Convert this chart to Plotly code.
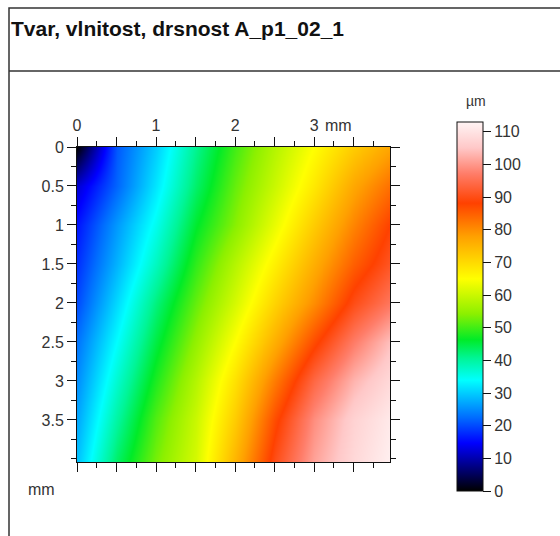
import plotly.graph_objects as go

# grid node positions (mm)
x_mm = [0, 0.5, 1.0, 1.5, 2.0, 2.5, 3.0, 3.5, 3.95]
y_mm = [0, 0.5, 1.0, 1.5, 2.0, 2.5, 3.0, 3.5, 4.0]

# height values (µm), one row per y node
z_row_00 = [0, 21, 30, 41, 50, 58, 65, 72, 77]
z_row_05 = [12, 22, 32, 43, 52, 60, 68, 77, 83]
z_row_10 = [16, 26, 35, 46, 54, 63, 72, 81, 88]
z_row_15 = [18, 28, 38, 49, 58, 67, 76, 85, 91]
z_row_20 = [20, 31, 42, 52, 61, 71, 80, 90, 96]
z_row_25 = [23, 34, 45, 55, 65, 76, 87, 97, 104]
z_row_30 = [25, 37, 48, 58, 69, 82, 94, 103, 108]
z_row_35 = [27, 40, 51, 60, 72, 87, 99, 107, 111]
z_row_40 = [29, 43, 53, 61, 75, 90, 101, 108, 112]

x_tickvals = [0, 0.5, 1, 1.5, 2, 2.5, 3, 3.5]
x_ticktext = ["0", "", "1", "", "2", "", "3", ""]
y_tickvals = [0, 0.5, 1, 1.5, 2, 2.5, 3, 3.5]
y_ticktext = ["0", "0.5", "1", "1.5", "2", "2.5", "3", "3.5"]
cb_ticks = [0, 10, 20, 30, 40, 50, 60, 70, 80, 90, 100, 110]

title_text = "Tvar, vlnitost, drsnost A_p1_02_1"
z_unit = "µm"
xy_unit = "mm"

z = [z_row_00, z_row_05, z_row_10, z_row_15, z_row_20,
     z_row_25, z_row_30, z_row_35, z_row_40]

colorscale = [
    [0.00, "rgb(0,0,0)"],
    [0.045, "rgb(0,0,90)"],
    [0.13, "rgb(0,0,255)"],
    [0.20, "rgb(0,110,255)"],
    [0.30, "rgb(0,255,255)"],
    [0.36, "rgb(0,245,150)"],
    [0.41, "rgb(0,235,40)"],
    [0.48, "rgb(140,240,0)"],
    [0.575, "rgb(255,255,0)"],
    [0.69, "rgb(255,160,0)"],
    [0.78, "rgb(255,65,0)"],
    [0.86, "rgb(255,125,105)"],
    [0.93, "rgb(255,200,200)"],
    [1.00, "rgb(255,244,244)"],
]

W, H = 560, 536
L, R, T, B = 77, 390, 147, 462
pw, ph = R - L, B - T


def px(xp):
    return (xp - L) / pw


def py(yp):
    return (B - yp) / ph


FONT = "Liberation Sans, Arial, sans-serif"
TXT = "#333333"
TICK_SIZE = 16

fig = go.Figure()
fig.add_trace(go.Heatmap(
    x=x_mm, y=y_mm, z=z,
    zmin=0, zmax=113,
    zsmooth="best",
    colorscale=colorscale,
    colorbar=dict(
        thickness=26, thicknessmode="pixels",
        len=369 / ph, lenmode="fraction",
        x=px(457), xanchor="left", xpad=0,
        y=py(306.5), yanchor="middle", ypad=0,
        outlinewidth=1, outlinecolor="#111",
        tickvals=cb_ticks, ticks="outside", ticklen=8, tickcolor="#111",
        tickfont=dict(family=FONT, size=TICK_SIZE, color=TXT),
    ),
    hoverinfo="skip",
))

axis_common = dict(
    showgrid=False, zeroline=False,
    showline=True, linecolor="#111", linewidth=1,
    mirror="ticks",
    ticks="outside", ticklen=9, tickwidth=1, tickcolor="#111",
    tickfont=dict(family=FONT, size=TICK_SIZE, color=TXT),
    minor=dict(ticks="outside", ticklen=5, dtick=0.25, tick0=0, tickcolor="#111", showgrid=False),
)

fig.update_xaxes(
    range=[0, 3.96], side="top",
    tickmode="array", tickvals=x_tickvals, ticktext=x_ticktext,
    **axis_common,
)
fig.update_yaxes(
    range=[4.04, 0],
    tickmode="array", tickvals=y_tickvals, ticktext=y_ticktext,
    **axis_common,
)

shapes = [
    dict(type="rect", xref="paper", yref="paper",
         x0=px(9), x1=px(575), y0=py(560), y1=py(8),
         line=dict(color="#333", width=1.5), fillcolor="rgba(0,0,0,0)", layer="below"),
    dict(type="line", xref="paper", yref="paper",
         x0=px(9), x1=px(575), y0=py(71), y1=py(71),
         line=dict(color="#333", width=1.5)),
]

annotations = [
    dict(text=title_text, xref="paper", yref="paper", x=px(9), y=py(28),
         xanchor="left", yanchor="middle", showarrow=False,
         font=dict(family=FONT, size=21, color="#111", weight="bold")),
    dict(text=xy_unit, xref="paper", yref="paper", x=px(338), y=py(125),
         xanchor="center", yanchor="middle", showarrow=False,
         font=dict(family=FONT, size=TICK_SIZE, color=TXT)),
    dict(text=xy_unit, xref="paper", yref="paper", x=px(41), y=py(490),
         xanchor="center", yanchor="middle", showarrow=False,
         font=dict(family=FONT, size=TICK_SIZE, color=TXT)),
    dict(text=z_unit, xref="paper", yref="paper", x=px(476), y=py(101),
         xanchor="center", yanchor="middle", showarrow=False,
         font=dict(family=FONT, size=14, color=TXT)),
]

fig.update_layout(
    width=W, height=H,
    margin=dict(l=L, r=W - R, t=T, b=H - B, pad=0),
    paper_bgcolor="white", plot_bgcolor="white",
    shapes=shapes, annotations=annotations,
    showlegend=False,
)

fig.write_html(
    "out.html",
    config={"displayModeBar": False},
    post_script="document.body.style.margin='0';document.body.style.overflow='hidden';",
)
